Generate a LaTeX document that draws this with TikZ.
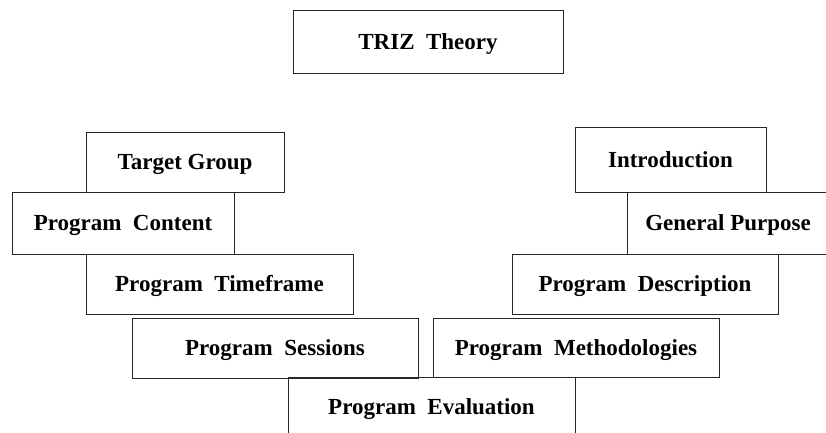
\documentclass[tikz,border=0pt]{standalone}
\usepackage{fontspec}
\setmainfont{Liberation Serif}
\begin{document}
\begin{tikzpicture}[x=1pt,y=-1pt,
  box/.style={draw=black!85, line width=0.9pt, rectangle, inner sep=0pt,
    font=\fontsize{23}{26}\selectfont\bfseries, text height=15.5pt, text depth=0pt}]
\useasboundingbox (0,0) rectangle (826,432);
\clip (0,0) rectangle (826,432);
\node[box, minimum width=270pt, minimum height=63pt] (triz) at (428,41.5) {TRIZ\ \ Theory};
\node[box, minimum width=198pt, minimum height=60pt] (target) at (185,162) {Target\ Group};
\node[box, minimum width=222pt, minimum height=62pt] (content) at (123,223) {Program\ \ Content};
\node[box, minimum width=267pt, minimum height=60pt] (timeframe) at (219.5,284) {Program\ \ Timeframe};
\node[box, minimum width=286pt, minimum height=60pt] (sessions) at (275,348) {Program\ \ Sessions};
\node[box, minimum width=287pt, minimum height=60pt] (evaluation) at (431.5,407) {Program\ \ Evaluation};
\node[box, minimum width=191pt, minimum height=65pt] (intro) at (670.5,159.5) {Introduction};
\node[box, minimum width=202pt, minimum height=62pt] (purpose) at (728,223) {General Purpose};
\node[box, minimum width=266pt, minimum height=60pt] (description) at (645,284) {Program\ \ Description};
\node[box, minimum width=286pt, minimum height=59pt] (methods) at (576,347.5) {Program\ \ Methodologies};
\end{tikzpicture}
\end{document}
